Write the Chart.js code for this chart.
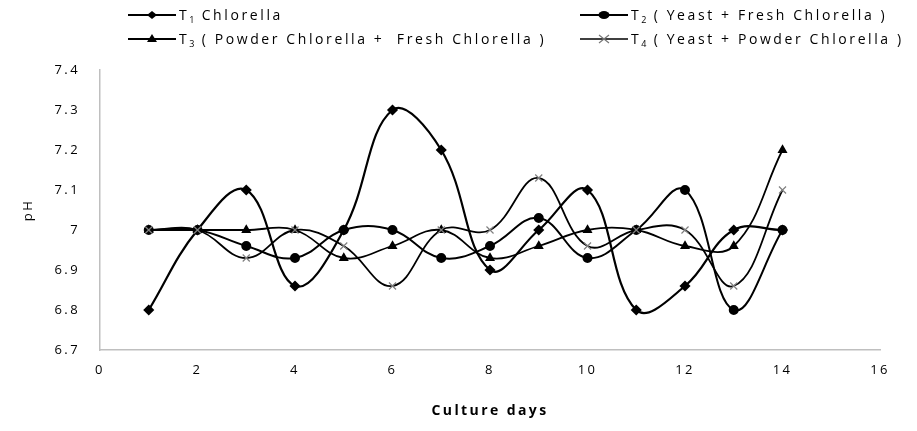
<!DOCTYPE html>
<html>
<head>
<meta charset="utf-8">
<script src="https://cdn.jsdelivr.net/npm/chart.js@4.4.1/dist/chart.umd.min.js"></script>
<style>
  body { margin: 0; background: #fff; }
  #wrap { position: relative; width: 917px; height: 431px; }
  #c { position: absolute; left: 0; top: 0; }
  .leg { position: absolute; display: flex; align-items: center; font-family: "Open Sans", sans-serif; font-size: 14px; letter-spacing: 2.6px; color: #000; white-space: pre; }
  .leg svg { margin-right: 3px; }
  .leg .s { font-size: 9px; letter-spacing: 1px; position: relative; top: 3px; }
</style>
</head>
<body>
<div id="wrap">
  <canvas id="c" width="917" height="431"></canvas>
  <div class="leg" style="left:128px;top:5px;">
    <svg width="48" height="14"><line x1="0" y1="7" x2="48" y2="7" stroke="#000" stroke-width="2"/><polygon points="24,3 29,7 24,11 19,7" fill="#000"/></svg><span>T<span class="s">1</span> Chlorella</span>
  </div>
  <div class="leg" style="left:580px;top:5px;">
    <svg width="48" height="14"><line x1="0" y1="7" x2="48" y2="7" stroke="#000" stroke-width="2"/><ellipse cx="24" cy="7" rx="5.5" ry="4" fill="#000"/></svg><span>T<span class="s">2</span> ( Yeast + Fresh Chlorella )</span>
  </div>
  <div class="leg" style="left:128px;top:29px;">
    <svg width="48" height="14"><line x1="0" y1="7" x2="48" y2="7" stroke="#000" stroke-width="2"/><polygon points="24,2 29,10 19,10" fill="#000"/></svg><span>T<span class="s">3</span> ( Powder Chlorella +  Fresh Chlorella )</span>
  </div>
  <div class="leg" style="left:580px;top:29px;">
    <svg width="48" height="14"><line x1="0" y1="7" x2="48" y2="7" stroke="#000" stroke-width="1.5"/><path d="M19,3 L29,11 M29,3 L19,11" stroke="#777" stroke-width="1.2"/></svg><span>T<span class="s">4</span> ( Yeast + Powder Chlorella )</span>
  </div>
</div>
<script>
// culture days and pH readings
var days = [1, 2, 3, 4, 5, 6, 7, 8, 9, 10, 11, 12, 13, 14];
var t1 = [6.8, 7.0, 7.1, 6.86, 7.0, 7.3, 7.2, 6.9, 7.0, 7.1, 6.8, 6.86, 7.0, 7.0];
var t2 = [7.0, 7.0, 6.96, 6.93, 7.0, 7.0, 6.93, 6.96, 7.03, 6.93, 7.0, 7.1, 6.8, 7.0];
var t3 = [7.0, 7.0, 7.0, 7.0, 6.93, 6.96, 7.0, 6.93, 6.96, 7.0, 7.0, 6.96, 6.96, 7.2];
var t4 = [7.0, 7.0, 6.93, 7.0, 6.96, 6.86, 7.0, 7.0, 7.13, 6.96, 7.0, 7.0, 6.86, 7.1];

function pts(vals) {
  return days.map(function (d, i) { return { x: d, y: vals[i] }; });
}

var axisGray = '#bfbfbf';
var tickFont = { family: 'Open Sans', size: 13 };

// the original text is drawn wide, so space the canvas letters out a bit
// (canvas resizes wipe the ctx state, so set it again before layout and draw)
function spaceOut(chart) { chart.ctx.letterSpacing = '2.4px'; }
var spacing = { id: 'spacing', beforeLayout: spaceOut, beforeDraw: spaceOut };

new Chart(document.getElementById('c').getContext('2d'), {
  type: 'line',
  data: {
    datasets: [
      { label: 'T4', data: pts(t4), borderColor: '#000', borderWidth: 1.8, pointStyle: 'crossRot', pointRadius: 5, pointBorderColor: '#808080', pointBorderWidth: 1.2, tension: 0.4 },
      { label: 'T3', data: pts(t3), borderColor: '#000', borderWidth: 1.8, pointStyle: 'triangle', pointRadius: 4, pointBackgroundColor: '#000', pointBorderColor: '#000', tension: 0.4 },
      { label: 'T2', data: pts(t2), borderColor: '#000', borderWidth: 2, pointStyle: 'circle', pointRadius: 4, pointBackgroundColor: '#000', pointBorderColor: '#000', tension: 0.4 },
      { label: 'T1', data: pts(t1), borderColor: '#000', borderWidth: 2.2, pointStyle: 'rectRot', pointRadius: 4, pointBackgroundColor: '#000', pointBorderColor: '#000', tension: 0.4 }
    ]
  },
  plugins: [spacing],
  options: {
    responsive: false,
    animation: false,
    layout: { padding: { left: 0, right: 37, top: 70, bottom: 0 } },
    plugins: { legend: { display: false }, tooltip: { enabled: false } },
    scales: {
      x: {
        type: 'linear',
        min: 0, max: 16,
        grid: { display: false, drawTicks: false },
        border: { display: true, color: axisGray, width: 1.5 },
        ticks: { stepSize: 2, color: '#000', font: tickFont, padding: 12 },
        title: { display: true, text: 'Culture days', color: '#000', font: { family: 'Open Sans', size: 14, weight: 'bold' }, padding: { top: 0, bottom: 12 } },
        afterFit: function (s) { s.height = 81; }
      },
      y: {
        min: 6.7, max: 7.4,
        grid: { display: false, drawTicks: false },
        border: { display: true, color: axisGray, width: 1.5 },
        ticks: { stepSize: 0.1, color: '#000', font: tickFont, padding: 20,
          callback: function (v) { return String(Math.round(v * 10) / 10); } },
        title: { display: true, text: 'pH', color: '#000', font: { family: 'Open Sans', size: 13 }, padding: { top: 20, bottom: 0 } },
        afterFit: function (s) { s.width = 100; }
      }
    }
  }
});
</script>
</body>
</html>
